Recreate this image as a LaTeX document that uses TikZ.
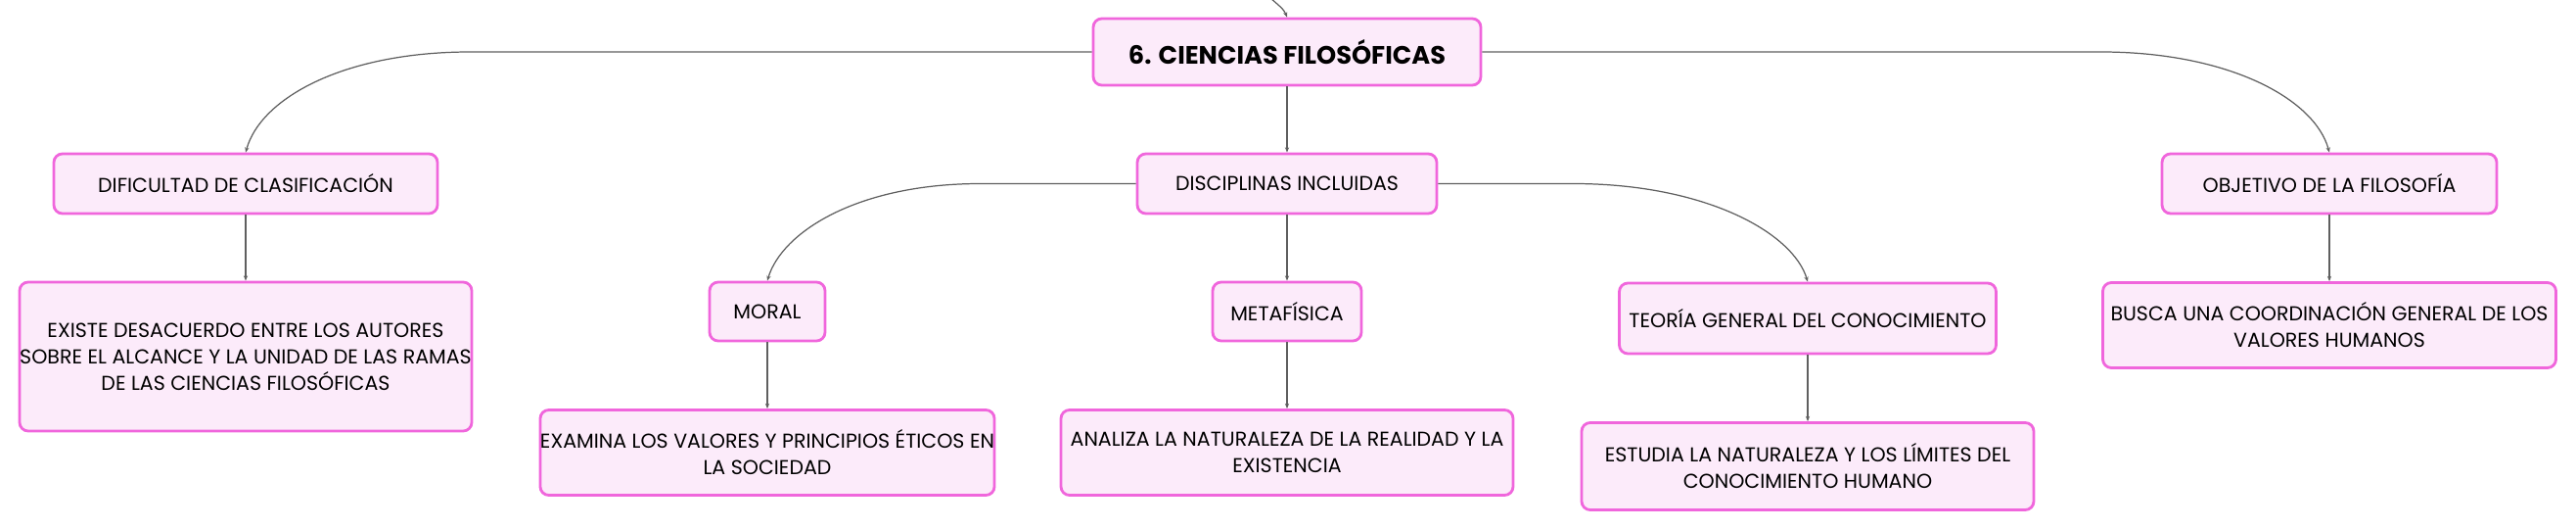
\documentclass[tikz,border=0pt]{standalone}
\usepackage{fontspec}
\setmainfont{Poppins}
\usetikzlibrary{arrows.meta}
\definecolor{rosa}{RGB}{240,102,220}
\definecolor{rosaclaro}{RGB}{252,235,250}
\definecolor{gris}{RGB}{95,95,95}
\begin{document}
\begin{tikzpicture}[line width=0.35pt,>={Stealth[length=1.5pt,width=1.2pt]},font=\fontsize{5.85}{7.7}\selectfont,
	caja/.style={draw=rosa,fill=rosaclaro,line width=0.8pt,rounded corners=2.5pt,align=center,inner sep=0pt,minimum height=0.61cm},
	enlace/.style={->,draw=gris,line width=0.35pt}]
	\useasboundingbox (0,0) rectangle (26.32,-5.40);
	\node[caja,minimum width=3.96cm,minimum height=0.68cm,font=\bfseries\fontsize{7.3}{9}\selectfont] (ciencias) at (13.15,-0.53) {6. CIENCIAS FILOSÓFICAS};
	\node[caja,minimum width=3.92cm] (dificultad) at (2.51,-1.875) {DIFICULTAD DE CLASIFICACIÓN};
	\node[caja,minimum width=3.06cm] (disciplinas) at (13.15,-1.875) {DISCIPLINAS INCLUIDAS};
	\node[caja,minimum width=3.42cm] (objetivo) at (23.80,-1.875) {OBJETIVO DE LA FILOSOFÍA};
	\node[caja,minimum width=4.62cm,minimum height=1.52cm] (existe) at (2.51,-3.64) {EXISTE DESACUERDO ENTRE LOS AUTORES\\SOBRE EL ALCANCE Y LA UNIDAD DE LAS RAMAS\\DE LAS CIENCIAS FILOSÓFICAS};
	\node[caja,minimum width=1.18cm,minimum height=0.60cm] (moral) at (7.84,-3.18) {MORAL};
	\node[caja,minimum width=1.52cm,minimum height=0.60cm] (metafisica) at (13.15,-3.18) {METAFÍSICA};
	\node[caja,minimum width=3.85cm,minimum height=0.72cm] (teoria) at (18.47,-3.25) {TEORÍA GENERAL DEL CONOCIMIENTO};
	\node[caja,minimum width=4.63cm,minimum height=0.87cm] (busca) at (23.80,-3.32) {BUSCA UNA COORDINACIÓN GENERAL DE LOS\\VALORES HUMANOS};
	\node[caja,minimum width=4.62cm,minimum height=0.87cm] (examina) at (7.84,-4.62) {EXAMINA LOS VALORES Y PRINCIPIOS ÉTICOS EN\\LA SOCIEDAD};
	\node[caja,minimum width=4.62cm,minimum height=0.87cm] (analiza) at (13.15,-4.62) {ANALIZA LA NATURALEZA DE LA REALIDAD Y LA\\EXISTENCIA};
	\node[caja,minimum width=4.62cm,minimum height=0.89cm] (estudia) at (18.47,-4.76) {ESTUDIA LA NATURALEZA Y LOS LÍMITES DEL\\CONOCIMIENTO HUMANO};
	\coordinate (arriba) at (12.98,0.02);
	\draw[enlace] (arriba) .. controls +(0.08,-0.07) and +(-0.03,0.08) .. (ciencias.north);
	\draw[enlace] (ciencias.west) -- ++(-6.35,0) .. controls +(-1.3,0) and +(0.15,0.55) .. (dificultad.north);
	\draw[enlace] (ciencias.east) -- ++(6.32,0) .. controls +(1.3,0) and +(-0.15,0.55) .. (objetivo.north);
	\draw[enlace] (disciplinas.west) -- ++(-1.59,0) .. controls +(-1.25,0) and +(0.15,0.5) .. (moral.north);
	\draw[enlace] (disciplinas.east) -- ++(1.38,0) .. controls +(1.35,0) and +(-0.15,0.5) .. (teoria.north);
	\draw[enlace] (ciencias) -- (disciplinas);
	\draw[enlace] (disciplinas) -- (metafisica);
	\draw[enlace] (metafisica) -- (analiza);
	\draw[enlace] (dificultad) -- (existe);
	\draw[enlace] (objetivo) -- (busca);
	\draw[enlace] (moral) -- (examina);
	\draw[enlace] (teoria) -- (estudia);
\end{tikzpicture}
\end{document}
